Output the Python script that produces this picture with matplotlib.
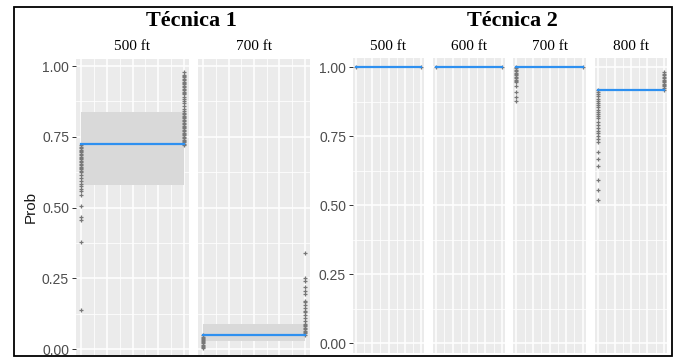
import matplotlib.pyplot as plt
from matplotlib.patches import Rectangle

W, H = 678, 359

# ---- data ----
t1_labels = ['500 ft', '700 ft']
t1_line = [0.724, 0.048]
t1_lo = [0.58, 0.028]
t1_hi = [0.836, 0.088]
t1_left = [
    [0.72, 0.715, 0.71, 0.705, 0.70, 0.695, 0.69, 0.685, 0.68, 0.675, 0.67, 0.665,
     0.66, 0.655, 0.65, 0.645, 0.64, 0.635, 0.63, 0.625, 0.615, 0.605, 0.595, 0.585,
     0.575, 0.565, 0.56, 0.544, 0.505, 0.468, 0.455, 0.377, 0.138],
    [0.048, 0.044, 0.04, 0.036, 0.032, 0.028, 0.024, 0.02, 0.016, 0.012, 0.008, 0.004],
]
t1_right = [
    [0.72, 0.725, 0.73, 0.735, 0.74, 0.745, 0.75, 0.755, 0.76, 0.765, 0.77, 0.775,
     0.78, 0.785, 0.79, 0.795, 0.80, 0.805, 0.81, 0.815, 0.82, 0.825, 0.83, 0.835,
     0.84, 0.85, 0.86, 0.87, 0.875, 0.885, 0.89, 0.90, 0.905, 0.91, 0.915, 0.92,
     0.925, 0.93, 0.935, 0.94, 0.945, 0.95, 0.955, 0.96, 0.965, 0.97, 0.979],
    [0.05, 0.055, 0.06, 0.065, 0.07, 0.075, 0.08, 0.085, 0.09, 0.10, 0.11, 0.12,
     0.13, 0.135, 0.145, 0.155, 0.165, 0.17, 0.195, 0.205, 0.22, 0.24, 0.25, 0.339],
]

t2_labels = ['500 ft', '600 ft', '700 ft', '800 ft']
t2_line = [1.0, 1.0, 0.999, 0.918]
t2_left = [
    [1.0],
    [1.0],
    [0.999, 0.995, 0.99, 0.985, 0.98, 0.975, 0.97, 0.965, 0.96, 0.955, 0.95, 0.947,
     0.93, 0.91, 0.89, 0.878],
    [0.918, 0.91, 0.902, 0.894, 0.886, 0.878, 0.87, 0.862, 0.854, 0.846, 0.838, 0.83,
     0.822, 0.815, 0.80, 0.79, 0.78, 0.77, 0.76, 0.75, 0.74, 0.73, 0.693, 0.666,
     0.641, 0.59, 0.554, 0.518],
]
t2_right = [
    [1.0],
    [1.0],
    [1.0],
    [0.918, 0.925, 0.93, 0.935, 0.94, 0.945, 0.95, 0.955, 0.96, 0.965, 0.97, 0.975, 0.983],
]

yticks = [0, 0.25, 0.5, 0.75, 1.0]
ytick_labels = ['0.00', '0.25', '0.50', '0.75', '1.00']

plt.rcParams['font.family'] = ['Liberation Sans', 'DejaVu Sans']
fig = plt.figure(figsize=(W / 100, H / 100), dpi=100)


def px_axes(x0, x1, y0, y1):
    return fig.add_axes([x0 / W, 1 - y1 / H, (x1 - x0) / W, (y1 - y0) / H])


def panel(ax, left, right, line, lo, hi, ylim, show_y):
    ax.set_facecolor('#EBEBEB')
    ax.set_xlim(-0.05, 1.05)
    ax.set_ylim(*ylim)
    ax.set_xticks([0, 0.25, 0.5, 0.75, 1.0])
    ax.set_xticks([0.125, 0.375, 0.625, 0.875], minor=True)
    ax.set_yticks(yticks)
    ax.set_yticks([0.125, 0.375, 0.625, 0.875], minor=True)
    ax.grid(which='major', color='white', lw=1.1)
    ax.grid(which='minor', color='white', lw=0.55)
    ax.set_axisbelow(True)
    for s in ax.spines.values():
        s.set_visible(False)
    ax.tick_params(axis='x', which='both', length=0, labelbottom=False)
    ax.tick_params(axis='y', which='minor', length=0)
    if show_y:
        ax.set_yticklabels(ytick_labels)
        ax.tick_params(axis='y', which='major', length=3, width=0.7, color='#333333',
                       labelcolor='#4D4D4D', labelsize=10, pad=2)
    else:
        ax.tick_params(axis='y', which='major', length=0, labelleft=False)
    if hi > lo:
        ax.fill_between([0, 1], [lo, lo], [hi, hi], color='#D9D9D9', lw=0)
    ax.plot([0] * len(left), left, ls='none', marker='+', ms=3.2, mew=0.9, color='#787878')
    ax.plot([1] * len(right), right, ls='none', marker='+', ms=3.2, mew=0.9, color='#787878')
    ax.plot([0, 1], [line, line], color='#2E90F0', lw=1.6)


# Técnica 1
t1_boxes = [(76, 189), (198, 310)]
for i, (x0, x1) in enumerate(t1_boxes):
    ax = px_axes(x0, x1, 59, 355)
    panel(ax, t1_left[i], t1_right[i], t1_line[i], t1_lo[i], t1_hi[i],
          (-0.021, 1.025), i == 0)
    if i == 0:
        ax.set_ylabel('Prob', fontsize=11, color='#1A1A1A', labelpad=3)
    fig.text((x0 + x1) / 2 / W, 1 - 47 / H, t1_labels[i], ha='center', va='center',
             family='Liberation Serif', fontsize=11)

# Técnica 2
t2_boxes = [(353, 424), (433, 505), (513, 586), (595, 667)]
for i, (x0, x1) in enumerate(t2_boxes):
    ax = px_axes(x0, x1, 58, 353)
    panel(ax, t2_left[i], t2_right[i], t2_line[i], t2_line[i], t2_line[i],
          (-0.036, 1.033), i == 0)
    fig.text((x0 + x1) / 2 / W, 1 - 47 / H, t2_labels[i], ha='center', va='center',
             family='Liberation Serif', fontsize=11)

fig.text(191 / W, 1 - 21 / H, 'Técnica 1', ha='center', va='center',
         family='Liberation Serif', fontweight='bold', fontsize=16)
fig.text(512 / W, 1 - 21 / H, 'Técnica 2', ha='center', va='center',
         family='Liberation Serif', fontweight='bold', fontsize=16)

fig.patches.append(Rectangle((14 / W, 1 - 356 / H), (672 - 14) / W, (356 - 7) / H,
                             transform=fig.transFigure, fill=False, ec='black', lw=1.3))

fig.savefig('out.png', dpi=100)
